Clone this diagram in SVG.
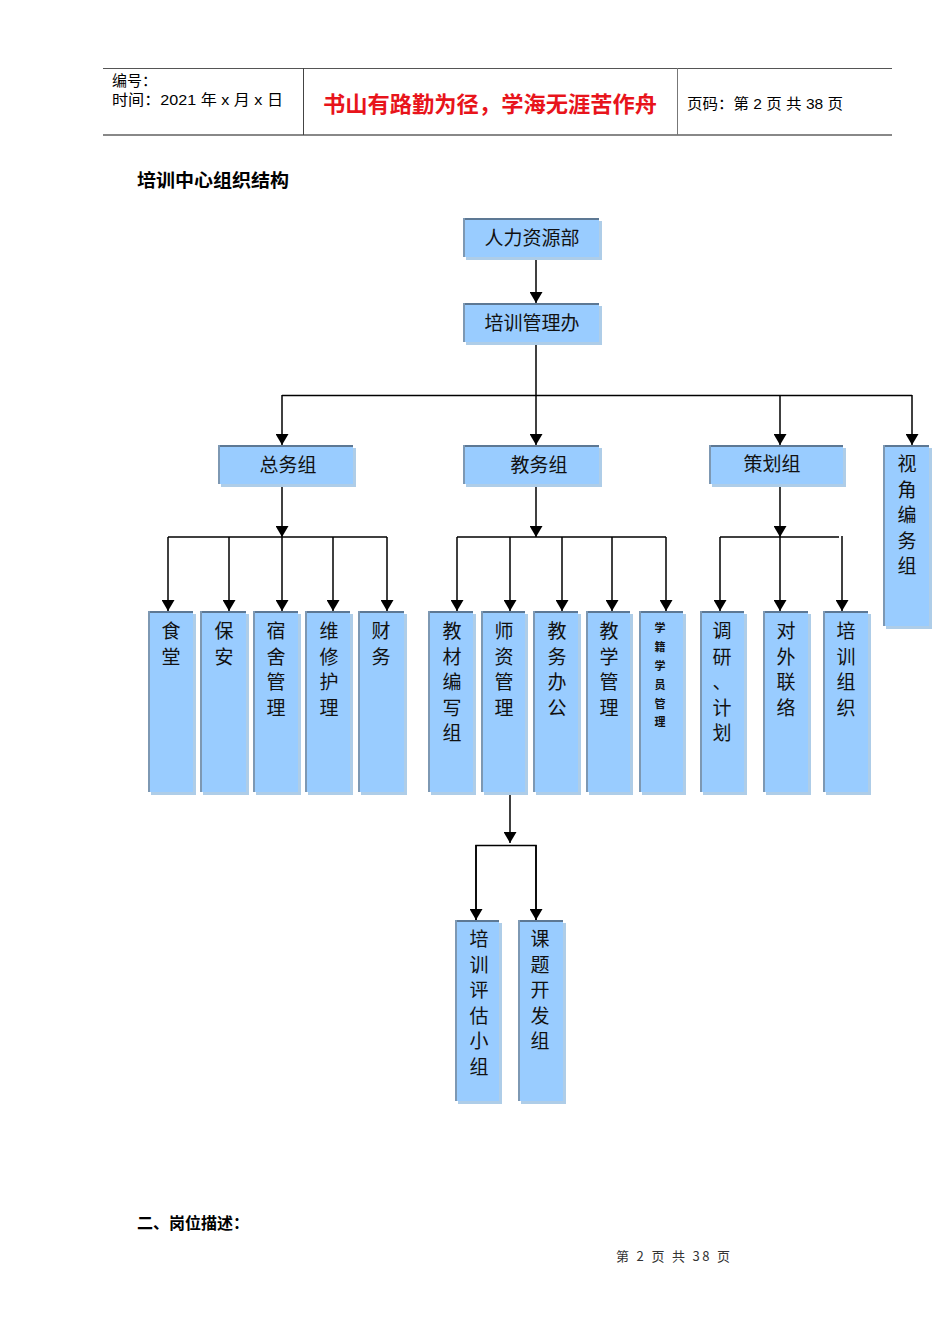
<svg xmlns="http://www.w3.org/2000/svg" width="950" height="1344" viewBox="0 0 950 1344">
<style>
  .hdr{font-family:"Liberation Sans","Noto Sans CJK SC",sans-serif;font-size:15px;fill:#000}
  .box{fill:#99ccff}
  .shd{fill:#aecde8}
  .top{stroke:#5d7894;stroke-width:2}
  .lft{stroke:#7d98b3;stroke-width:2}
  .lbl{font-family:"Noto Sans CJK SC",sans-serif;font-size:19px;fill:#111;text-anchor:middle}
  .v{font-family:"Noto Sans CJK SC",sans-serif;font-size:19px;fill:#111;text-anchor:middle}
  .vs{font-family:"Noto Sans CJK SC",sans-serif;font-size:11px;font-weight:bold;fill:#111;text-anchor:middle}
  .conn line,.conn polyline{stroke:#000;stroke-width:1.5;fill:none}
</style>
<defs>
  <marker id="arr" markerUnits="userSpaceOnUse" markerWidth="13" markerHeight="13" refX="11" refY="6.5" orient="auto">
    <path d="M0,0 L11,6.5 L0,13 z" fill="#000"/>
  </marker>
</defs>
<rect width="950" height="1344" fill="#fff"/>
<!-- header -->
<g id="header">
  <line x1="103" y1="68.5" x2="892" y2="68.5" stroke="#555" stroke-width="1"/>
  <line x1="103" y1="135" x2="892" y2="135" stroke="#888" stroke-width="2"/>
  <line x1="303.5" y1="68" x2="303.5" y2="135" stroke="#444" stroke-width="1"/>
  <line x1="677.5" y1="68" x2="677.5" y2="135" stroke="#777" stroke-width="1"/>
  <text class="hdr" x="112" y="86">编号：</text>
  <text class="hdr" x="112" y="105" textLength="171" lengthAdjust="spacingAndGlyphs">时间：2021 年 x 月 x 日</text>
  <text x="490" y="112" font-family="Noto Sans CJK SC,sans-serif" font-size="22" fill="#e8141b" text-anchor="middle" font-weight="bold" textLength="334" lengthAdjust="spacingAndGlyphs">书山有路勤为径，学海无涯苦作舟</text>
  <text class="hdr" x="687" y="109" textLength="156" lengthAdjust="spacingAndGlyphs">页码：第 2 页  共 38 页</text>
</g>
<text x="137" y="187" font-family="Noto Sans CJK SC,sans-serif" font-size="18" font-weight="bold" fill="#000" textLength="152" lengthAdjust="spacingAndGlyphs">培训中心组织结构</text>

<!-- connectors -->
<g class="conn" id="connectors">
  <line x1="536" y1="258" x2="536" y2="303" marker-end="url(#arr)"/>
  <line x1="536" y1="344" x2="536" y2="395"/>
  <line x1="282" y1="395.5" x2="912" y2="395.5"/>
  <line x1="282" y1="395" x2="282" y2="445" marker-end="url(#arr)"/>
  <line x1="536" y1="395" x2="536" y2="445" marker-end="url(#arr)"/>
  <line x1="780" y1="395" x2="780" y2="445" marker-end="url(#arr)"/>
  <line x1="912" y1="395" x2="912" y2="445" marker-end="url(#arr)"/>
  <!-- 总务组 -->
  <line x1="282" y1="486" x2="282" y2="537" marker-end="url(#arr)"/>
  <line x1="168" y1="537" x2="387" y2="537"/>
  <line x1="168" y1="537" x2="168" y2="611" marker-end="url(#arr)"/>
  <line x1="229" y1="537" x2="229" y2="611" marker-end="url(#arr)"/>
  <line x1="282" y1="537" x2="282" y2="611" marker-end="url(#arr)"/>
  <line x1="333" y1="537" x2="333" y2="611" marker-end="url(#arr)"/>
  <line x1="387" y1="537" x2="387" y2="611" marker-end="url(#arr)"/>
  <!-- 教务组 -->
  <line x1="536" y1="486" x2="536" y2="537" marker-end="url(#arr)"/>
  <line x1="457" y1="537" x2="666" y2="537"/>
  <line x1="457" y1="537" x2="457" y2="611" marker-end="url(#arr)"/>
  <line x1="510" y1="537" x2="510" y2="611" marker-end="url(#arr)"/>
  <line x1="562" y1="537" x2="562" y2="611" marker-end="url(#arr)"/>
  <line x1="612" y1="537" x2="612" y2="611" marker-end="url(#arr)"/>
  <line x1="666" y1="537" x2="666" y2="611" marker-end="url(#arr)"/>
  <!-- 策划组 -->
  <line x1="780" y1="486" x2="780" y2="537" marker-end="url(#arr)"/>
  <line x1="720" y1="537" x2="839" y2="537"/>
  <line x1="720" y1="537" x2="720" y2="611" marker-end="url(#arr)"/>
  <line x1="780" y1="537" x2="780" y2="611" marker-end="url(#arr)"/>
  <line x1="842" y1="536" x2="842" y2="611" marker-end="url(#arr)"/>
  <!-- 师资管理 -->
  <line x1="510" y1="794" x2="510" y2="843" marker-end="url(#arr)"/>
  <polyline points="476,920 476,845.5 536,845.5 536,920"/>
  <line x1="476" y1="845" x2="476" y2="920" marker-end="url(#arr)"/>
  <line x1="536" y1="845" x2="536" y2="920" marker-end="url(#arr)"/>
</g>

<!-- nodes -->
<g id="n-hr">
  <rect class="shd" x="466" y="221" width="136" height="39"/>
  <rect class="box" x="463" y="218" width="136" height="39"/>
  <line class="top" x1="463" y1="219" x2="599" y2="219"/><line class="lft" x1="464" y1="218" x2="464" y2="257"/>
  <text class="lbl" x="532" y="245">人力资源部</text>
</g>
<g id="n-pxglb">
  <rect class="shd" x="466" y="306" width="136" height="39"/>
  <rect class="box" x="463" y="303" width="136" height="39"/>
  <line class="top" x1="463" y1="304" x2="599" y2="304"/><line class="lft" x1="464" y1="303" x2="464" y2="342"/>
  <text class="lbl" x="532" y="330">培训管理办</text>
</g>
<g id="n-zwz">
  <rect class="shd" x="221" y="448" width="135" height="39"/>
  <rect class="box" x="218" y="445" width="135" height="39"/>
  <line class="top" x1="218" y1="446" x2="353" y2="446"/><line class="lft" x1="219" y1="445" x2="219" y2="484"/>
  <text class="lbl" x="288" y="472">总务组</text>
</g>
<g id="n-jwz">
  <rect class="shd" x="466" y="448" width="136" height="39"/>
  <rect class="box" x="463" y="445" width="136" height="39"/>
  <line class="top" x1="463" y1="446" x2="599" y2="446"/><line class="lft" x1="464" y1="445" x2="464" y2="484"/>
  <text class="lbl" x="539" y="472">教务组</text>
</g>
<g id="n-chz">
  <rect class="shd" x="712" y="448" width="134" height="39"/>
  <rect class="box" x="709" y="445" width="134" height="39"/>
  <line class="top" x1="709" y1="446" x2="843" y2="446"/><line class="lft" x1="710" y1="445" x2="710" y2="484"/>
  <text class="lbl" x="772" y="471">策划组</text>
</g>
<g id="n-sjbwz">
  <rect class="shd" x="886" y="448" width="46" height="181"/>
  <rect class="box" x="883" y="445" width="46" height="181"/>
  <line class="top" x1="883" y1="446" x2="929" y2="446"/><line class="lft" x1="884" y1="445" x2="884" y2="626"/>
  <text class="v" x="907"><tspan x="907" y="471">视</tspan><tspan x="907" dy="25.5">角</tspan><tspan x="907" dy="25.5">编</tspan><tspan x="907" dy="25.5">务</tspan><tspan x="907" dy="25.5">组</tspan></text>
</g>

<!-- 总务组 leaves -->
<g id="n-st">
  <rect class="shd" x="151" y="614" width="45" height="181"/>
  <rect class="box" x="148" y="611" width="45" height="181"/>
  <line class="top" x1="148" y1="612" x2="193" y2="612"/><line class="lft" x1="149" y1="611" x2="149" y2="792"/>
  <text class="v"><tspan x="171" y="638">食</tspan><tspan x="171" dy="25.5">堂</tspan></text>
</g>
<g id="n-ba">
  <rect class="shd" x="203" y="614" width="46" height="181"/>
  <rect class="box" x="200" y="611" width="46" height="181"/>
  <line class="top" x1="200" y1="612" x2="246" y2="612"/><line class="lft" x1="201" y1="611" x2="201" y2="792"/>
  <text class="v"><tspan x="224" y="638">保</tspan><tspan x="224" dy="25.5">安</tspan></text>
</g>
<g id="n-ssgl">
  <rect class="shd" x="256" y="614" width="45" height="181"/>
  <rect class="box" x="253" y="611" width="45" height="181"/>
  <line class="top" x1="253" y1="612" x2="298" y2="612"/><line class="lft" x1="254" y1="611" x2="254" y2="792"/>
  <text class="v"><tspan x="276" y="638">宿</tspan><tspan x="276" dy="25.5">舍</tspan><tspan x="276" dy="25.5">管</tspan><tspan x="276" dy="25.5">理</tspan></text>
</g>
<g id="n-wxhl">
  <rect class="shd" x="308" y="614" width="45" height="181"/>
  <rect class="box" x="305" y="611" width="45" height="181"/>
  <line class="top" x1="305" y1="612" x2="350" y2="612"/><line class="lft" x1="306" y1="611" x2="306" y2="792"/>
  <text class="v"><tspan x="329" y="638">维</tspan><tspan x="329" dy="25.5">修</tspan><tspan x="329" dy="25.5">护</tspan><tspan x="329" dy="25.5">理</tspan></text>
</g>
<g id="n-cw">
  <rect class="shd" x="361" y="614" width="46" height="181"/>
  <rect class="box" x="358" y="611" width="46" height="181"/>
  <line class="top" x1="358" y1="612" x2="404" y2="612"/><line class="lft" x1="359" y1="611" x2="359" y2="792"/>
  <text class="v"><tspan x="381" y="638">财</tspan><tspan x="381" dy="25.5">务</tspan></text>
</g>

<!-- 教务组 leaves -->
<g id="n-jcbxz">
  <rect class="shd" x="431" y="614" width="45" height="181"/>
  <rect class="box" x="428" y="611" width="45" height="181"/>
  <line class="top" x1="428" y1="612" x2="473" y2="612"/><line class="lft" x1="429" y1="611" x2="429" y2="792"/>
  <text class="v"><tspan x="452" y="638">教</tspan><tspan x="452" dy="25.5">材</tspan><tspan x="452" dy="25.5">编</tspan><tspan x="452" dy="25.5">写</tspan><tspan x="452" dy="25.5">组</tspan></text>
</g>
<g id="n-szgl">
  <rect class="shd" x="484" y="614" width="44" height="181"/>
  <rect class="box" x="481" y="611" width="44" height="181"/>
  <line class="top" x1="481" y1="612" x2="525" y2="612"/><line class="lft" x1="482" y1="611" x2="482" y2="792"/>
  <text class="v"><tspan x="504" y="638">师</tspan><tspan x="504" dy="25.5">资</tspan><tspan x="504" dy="25.5">管</tspan><tspan x="504" dy="25.5">理</tspan></text>
</g>
<g id="n-jwbg">
  <rect class="shd" x="536" y="614" width="45" height="181"/>
  <rect class="box" x="533" y="611" width="45" height="181"/>
  <line class="top" x1="533" y1="612" x2="578" y2="612"/><line class="lft" x1="534" y1="611" x2="534" y2="792"/>
  <text class="v"><tspan x="557" y="638">教</tspan><tspan x="557" dy="25.5">务</tspan><tspan x="557" dy="25.5">办</tspan><tspan x="557" dy="25.5">公</tspan></text>
</g>
<g id="n-jxgl">
  <rect class="shd" x="589" y="614" width="44" height="181"/>
  <rect class="box" x="586" y="611" width="44" height="181"/>
  <line class="top" x1="586" y1="612" x2="630" y2="612"/><line class="lft" x1="587" y1="611" x2="587" y2="792"/>
  <text class="v"><tspan x="609" y="638">教</tspan><tspan x="609" dy="25.5">学</tspan><tspan x="609" dy="25.5">管</tspan><tspan x="609" dy="25.5">理</tspan></text>
</g>
<g id="n-xjxygl">
  <rect class="shd" x="642" y="614" width="44" height="181"/>
  <rect class="box" x="639" y="611" width="44" height="181"/>
  <line class="top" x1="639" y1="612" x2="683" y2="612"/><line class="lft" x1="640" y1="611" x2="640" y2="792"/>
  <text class="vs"><tspan x="660" y="632">学</tspan><tspan x="660" dy="19">籍</tspan><tspan x="660" dy="19">学</tspan><tspan x="660" dy="19">员</tspan><tspan x="660" dy="19">管</tspan><tspan x="660" dy="18">理</tspan></text>
</g>

<!-- 策划组 leaves -->
<g id="n-dyjh">
  <rect class="shd" x="703" y="614" width="44" height="181"/>
  <rect class="box" x="700" y="611" width="44" height="181"/>
  <line class="top" x1="700" y1="612" x2="744" y2="612"/><line class="lft" x1="701" y1="611" x2="701" y2="792"/>
  <text class="v"><tspan x="722" y="638">调</tspan><tspan x="722" dy="25.5">研</tspan><tspan x="722" dy="25.5">、</tspan><tspan x="722" dy="25.5">计</tspan><tspan x="722" dy="25.5">划</tspan></text>
</g>
<g id="n-dwll">
  <rect class="shd" x="766" y="614" width="45" height="181"/>
  <rect class="box" x="763" y="611" width="45" height="181"/>
  <line class="top" x1="763" y1="612" x2="808" y2="612"/><line class="lft" x1="764" y1="611" x2="764" y2="792"/>
  <text class="v"><tspan x="786" y="638">对</tspan><tspan x="786" dy="25.5">外</tspan><tspan x="786" dy="25.5">联</tspan><tspan x="786" dy="25.5">络</tspan></text>
</g>
<g id="n-pxzz">
  <rect class="shd" x="826" y="614" width="45" height="181"/>
  <rect class="box" x="823" y="611" width="45" height="181"/>
  <line class="top" x1="823" y1="612" x2="868" y2="612"/><line class="lft" x1="824" y1="611" x2="824" y2="792"/>
  <text class="v"><tspan x="846" y="638">培</tspan><tspan x="846" dy="25.5">训</tspan><tspan x="846" dy="25.5">组</tspan><tspan x="846" dy="25.5">织</tspan></text>
</g>

<!-- 师资管理 leaves -->
<g id="n-pxpgxz">
  <rect class="shd" x="458" y="923" width="44" height="181"/>
  <rect class="box" x="455" y="920" width="44" height="181"/>
  <line class="top" x1="455" y1="921" x2="499" y2="921"/><line class="lft" x1="456" y1="920" x2="456" y2="1101"/>
  <text class="v"><tspan x="479" y="946">培</tspan><tspan x="479" dy="25.5">训</tspan><tspan x="479" dy="25.5">评</tspan><tspan x="479" dy="25.5">估</tspan><tspan x="479" dy="25.5">小</tspan><tspan x="479" dy="25.5">组</tspan></text>
</g>
<g id="n-ktkfz">
  <rect class="shd" x="521" y="923" width="45" height="181"/>
  <rect class="box" x="518" y="920" width="45" height="181"/>
  <line class="top" x1="518" y1="921" x2="563" y2="921"/><line class="lft" x1="519" y1="920" x2="519" y2="1101"/>
  <text class="v"><tspan x="540" y="946">课</tspan><tspan x="540" dy="25.5">题</tspan><tspan x="540" dy="25.5">开</tspan><tspan x="540" dy="25.5">发</tspan><tspan x="540" dy="25.5">组</tspan></text>
</g>

<text x="137" y="1229" font-family="Noto Sans CJK SC,sans-serif" font-size="16" font-weight="bold" fill="#000">二、岗位描述：</text>
<text x="616" y="1261" font-family="Noto Sans CJK SC,sans-serif" font-size="13" fill="#333" textLength="114" lengthAdjust="spacing">第 2 页 共 38 页</text>
</svg>
